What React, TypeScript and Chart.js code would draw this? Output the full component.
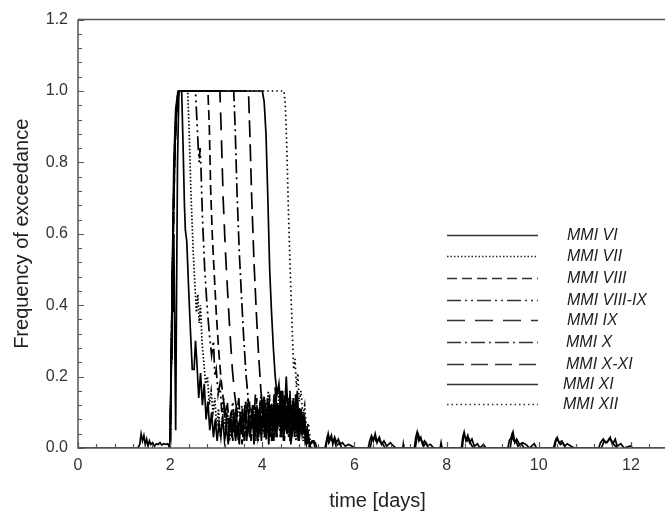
import React, { useEffect, useRef } from "react";
import { Chart, registerables } from "chart.js";

Chart.register(...registerables);

// ---------- data (time in days, frequency of exceedance) ----------
const seriesLabels = ["MMI VI", "MMI VII", "MMI VIII", "MMI VIII-IX", "MMI IX", "MMI X", "MMI X-XI", "MMI XI", "MMI XII"];

const xTicks = [0, 2, 4, 6, 8, 10, 12];
const yTicks = [0, 0.2, 0.4, 0.6, 0.8, 1.0, 1.2];

const quietBefore: [number, number][] = [
  [0, 0], [1.3, 0], [1.34, 0.01], [1.37, 0.04], [1.4, 0.02], [1.43, 0.035], [1.46, 0.01], [1.49, 0.025], [1.52, 0.005],
  [1.55, 0.02], [1.58, 0.01], [1.62, 0.015], [1.66, 0.005], [1.7, 0.012], [1.74, 0.01], [1.78, 0.015], [1.82, 0.008],
  [1.86, 0.012], [1.9, 0.01], [1.95, 0.012], [1.99, 0],
];

const quietAfter: [number, number][] = [
  [5.38, 0], [5.4, 0.02], [5.43, 0.04], [5.46, 0.02], [5.5, 0.035], [5.53, 0.01], [5.57, 0.03], [5.61, 0.015], [5.65, 0.025],
  [5.69, 0.01], [5.74, 0.015], [5.8, 0.005], [5.87, 0.01], [5.95, 0.005], [6.0, 0], [6.3, 0], [6.33, 0.02], [6.37, 0.035],
  [6.41, 0.02], [6.45, 0.04], [6.49, 0.015], [6.54, 0.03], [6.59, 0.01], [6.64, 0.02], [6.7, 0.005], [6.78, 0.015], [6.85, 0.005],
  [6.9, 0], [7.05, 0], [7.06, 0.01], [7.07, 0], [7.3, 0], [7.33, 0.03], [7.36, 0.045], [7.4, 0.02], [7.44, 0.03], [7.48, 0.01],
  [7.52, 0.02], [7.58, 0.008], [7.65, 0.01], [7.72, 0], [7.86, 0], [7.88, 0.015], [7.9, 0], [8.32, 0], [8.35, 0.03], [8.38, 0.045],
  [8.42, 0.02], [8.46, 0.035], [8.5, 0.015], [8.55, 0.025], [8.6, 0.005], [8.67, 0.012], [8.72, 0], [8.8, 0.01], [8.85, 0],
  [9.33, 0], [9.36, 0.02], [9.4, 0.03], [9.44, 0.045], [9.48, 0.015], [9.52, 0.025], [9.58, 0.01], [9.65, 0.015], [9.72, 0.01],
  [9.8, 0], [9.9, 0.012], [9.95, 0], [10.32, 0], [10.36, 0.02], [10.4, 0.03], [10.44, 0.015], [10.5, 0.02], [10.56, 0.005],
  [10.62, 0.012], [10.7, 0.005], [10.78, 0], [11.3, 0], [11.34, 0.015], [11.4, 0.025], [11.45, 0.015], [11.5, 0.02], [11.55, 0.03],
  [11.6, 0.01], [11.66, 0.025], [11.7, 0.005], [11.78, 0.012], [11.85, 0], [12.0, 0.006], [12.03, 0], [13, 0],
];

const quietAfterB: [number, number][] = [
  [5.36, 0], [5.41, 0.03], [5.44, 0.015], [5.48, 0.03], [5.52, 0.02], [5.56, 0.025], [5.6, 0.005], [5.68, 0.015], [5.72, 0],
  [6.34, 0], [6.38, 0.025], [6.43, 0.03], [6.47, 0.02], [6.52, 0.025], [6.57, 0.015], [6.62, 0.01], [6.66, 0],
  [7.32, 0], [7.35, 0.025], [7.38, 0.04], [7.42, 0.025], [7.46, 0.02], [7.5, 0.005], [7.55, 0.015], [7.6, 0],
  [8.34, 0], [8.37, 0.035], [8.41, 0.03], [8.45, 0.02], [8.49, 0.025], [8.53, 0.01], [8.58, 0],
  [9.38, 0], [9.42, 0.035], [9.46, 0.02], [9.5, 0.02], [9.55, 0.005], [9.62, 0.012], [9.68, 0],
  [10.34, 0], [10.38, 0.025], [10.42, 0.02], [10.47, 0.01], [10.52, 0.015], [10.58, 0],
  [11.36, 0], [11.42, 0.02], [11.48, 0.015], [11.53, 0.025], [11.58, 0.02], [11.63, 0.01], [11.7, 0],
];

const mmiVI: [number, number][] = [
  [2.0, 0], [2.02, 0.25], [2.04, 0.5], [2.06, 0.38], [2.08, 0.6], [2.1, 0.3], [2.12, 0.05], [2.14, 0.45], [2.16, 0.8],
  [2.19, 1.0], [2.25, 1.0], [2.28, 0.85], [2.31, 0.68], [2.33, 0.61], [2.36, 0.58], [2.4, 0.45], [2.44, 0.33], [2.48, 0.22],
  [2.52, 0.22], [2.55, 0.3], [2.58, 0.24], [2.62, 0.14], [2.66, 0.21], [2.7, 0.12], [2.74, 0.18], [2.78, 0.08], [2.82, 0.13],
  [2.86, 0.05], [2.9, 0.1], [2.94, 0.03], [2.98, 0.08], [3.02, 0.02], [3.06, 0.07], [3.1, 0.03], [3.14, 0.09], [3.18, 0.02],
  [3.22, 0.06], [3.26, 0.01], [3.3, 0.08], [3.34, 0.03], [3.38, 0.1], [3.42, 0.02], [3.46, 0.07], [3.5, 0.01], [3.54, 0.09],
  [3.58, 0.03], [3.62, 0.12], [3.66, 0.02], [3.7, 0.08], [3.74, 0.04], [3.78, 0.11], [3.82, 0.01], [3.86, 0.07], [3.9, 0.03],
  [3.94, 0.1], [3.98, 0.02], [4.02, 0.13], [4.06, 0.04], [4.1, 0.09], [4.14, 0.01], [4.18, 0.12], [4.22, 0.05], [4.26, 0.14],
  [4.3, 0.03], [4.34, 0.1], [4.38, 0.06], [4.42, 0.15], [4.46, 0.02], [4.5, 0.11], [4.54, 0.04], [4.58, 0.13], [4.62, 0.01],
  [4.66, 0.09], [4.7, 0.03], [4.74, 0.12], [4.78, 0.02], [4.82, 0.08], [4.86, 0.04], [4.9, 0.1], [4.94, 0.01], [4.98, 0.05],
  [5.02, 0.01], [5.06, 0.015], [5.15, 0.015], [5.18, 0],
];

const mmiVII: [number, number][] = [
  [2.0, 0], [2.03, 0.3], [2.06, 0.6], [2.09, 0.8], [2.12, 0.92], [2.16, 0.98], [2.2, 1.0], [2.38, 1.0], [2.41, 0.9],
  [2.45, 0.72], [2.5, 0.55], [2.54, 0.45], [2.57, 0.38], [2.6, 0.43], [2.63, 0.35], [2.66, 0.4], [2.69, 0.3], [2.73, 0.24],
  [2.77, 0.18], [2.81, 0.2], [2.85, 0.12], [2.89, 0.16], [2.93, 0.1], [2.97, 0.14], [3.01, 0.06], [3.05, 0.11], [3.09, 0.03],
  [3.13, 0.08], [3.17, 0.12], [3.21, 0.04], [3.25, 0.09], [3.29, 0.02], [3.33, 0.07], [3.37, 0.11], [3.41, 0.03], [3.45, 0.08],
  [3.49, 0.13], [3.53, 0.05], [3.57, 0.1], [3.61, 0.02], [3.65, 0.09], [3.69, 0.14], [3.73, 0.04], [3.77, 0.08], [3.81, 0.12],
  [3.85, 0.03], [3.89, 0.1], [3.93, 0.06], [3.97, 0.15], [4.01, 0.04], [4.05, 0.11], [4.09, 0.07], [4.13, 0.16], [4.17, 0.05],
  [4.21, 0.12], [4.25, 0.03], [4.29, 0.14], [4.33, 0.08], [4.37, 0.17], [4.41, 0.04], [4.45, 0.12], [4.49, 0.06], [4.53, 0.15],
  [4.57, 0.03], [4.61, 0.1], [4.65, 0.05], [4.69, 0.13], [4.73, 0.02], [4.77, 0.09], [4.81, 0.04], [4.85, 0.11], [4.89, 0.02],
  [4.93, 0.06], [4.97, 0.01], [5.0, 0.02], [5.04, 0],
];

const mmiVIII: [number, number][] = [
  [2.0, 0], [2.05, 0.5], [2.1, 0.85], [2.15, 0.97], [2.2, 1.0], [2.82, 1.0], [2.85, 0.9], [2.88, 0.72], [2.92, 0.58],
  [2.96, 0.48], [3.0, 0.38], [3.05, 0.28], [3.1, 0.2], [3.15, 0.14], [3.2, 0.1], [3.24, 0.13], [3.28, 0.06], [3.32, 0.1],
  [3.36, 0.02], [3.4, 0.08], [3.44, 0.12], [3.48, 0.04], [3.52, 0.1], [3.56, 0.01], [3.6, 0.07], [3.64, 0.13], [3.68, 0.04],
  [3.72, 0.09], [3.76, 0.02], [3.8, 0.12], [3.84, 0.05], [3.88, 0.14], [3.92, 0.03], [3.96, 0.1], [4.0, 0.06], [4.04, 0.15],
  [4.08, 0.02], [4.12, 0.11], [4.16, 0.04], [4.2, 0.13], [4.24, 0.06], [4.28, 0.17], [4.32, 0.03], [4.36, 0.1], [4.4, 0.05],
  [4.44, 0.14], [4.48, 0.02], [4.52, 0.12], [4.56, 0.07], [4.6, 0.16], [4.64, 0.03], [4.68, 0.11], [4.72, 0.05], [4.76, 0.13],
  [4.8, 0.02], [4.84, 0.09], [4.88, 0.04], [4.92, 0.07], [4.96, 0.01], [5.0, 0.03], [5.04, 0],
];

const mmiVIIIIX: [number, number][] = [
  [2.0, 0], [2.04, 0.4], [2.08, 0.75], [2.12, 0.9], [2.17, 1.0], [2.55, 1.0], [2.58, 0.92], [2.61, 0.84], [2.63, 0.8],
  [2.65, 0.84], [2.67, 0.78], [2.7, 0.65], [2.75, 0.5], [2.8, 0.4], [2.85, 0.32], [2.9, 0.26], [2.94, 0.3], [2.97, 0.2],
  [3.0, 0.22], [3.04, 0.15], [3.08, 0.18], [3.12, 0.1], [3.16, 0.14], [3.2, 0.05], [3.24, 0.11], [3.28, 0.03], [3.32, 0.09],
  [3.36, 0.13], [3.4, 0.04], [3.44, 0.1], [3.48, 0.02], [3.52, 0.08], [3.56, 0.12], [3.6, 0.05], [3.64, 0.1], [3.68, 0.03],
  [3.72, 0.13], [3.76, 0.06], [3.8, 0.1], [3.84, 0.02], [3.88, 0.12], [3.92, 0.05], [3.96, 0.09], [4.0, 0.14], [4.04, 0.03],
  [4.08, 0.11], [4.12, 0.06], [4.16, 0.15], [4.2, 0.02], [4.24, 0.1], [4.28, 0.05], [4.32, 0.13], [4.36, 0.07], [4.4, 0.16],
  [4.44, 0.03], [4.48, 0.11], [4.52, 0.05], [4.56, 0.14], [4.6, 0.02], [4.64, 0.12], [4.68, 0.06], [4.72, 0.15], [4.76, 0.03],
  [4.8, 0.1], [4.84, 0.05], [4.88, 0.08], [4.92, 0.02], [4.96, 0.04], [5.0, 0.01], [5.03, 0],
];

const mmiIX: [number, number][] = [
  [2.0, 0], [2.04, 0.35], [2.08, 0.7], [2.13, 0.93], [2.18, 1.0], [3.08, 1.0], [3.11, 0.88], [3.15, 0.7], [3.2, 0.55],
  [3.25, 0.43], [3.3, 0.32], [3.35, 0.22], [3.4, 0.15], [3.45, 0.1], [3.49, 0.14], [3.53, 0.05], [3.57, 0.11], [3.61, 0.02],
  [3.65, 0.09], [3.69, 0.13], [3.73, 0.03], [3.77, 0.1], [3.81, 0.06], [3.85, 0.15], [3.89, 0.02], [3.93, 0.11], [3.97, 0.05],
  [4.01, 0.13], [4.05, 0.03], [4.09, 0.09], [4.13, 0.14], [4.17, 0.04], [4.21, 0.11], [4.25, 0.02], [4.29, 0.16], [4.33, 0.06],
  [4.37, 0.12], [4.41, 0.03], [4.45, 0.1], [4.49, 0.15], [4.53, 0.04], [4.57, 0.12], [4.61, 0.02], [4.65, 0.14], [4.69, 0.05],
  [4.73, 0.1], [4.77, 0.03], [4.81, 0.12], [4.85, 0.04], [4.89, 0.08], [4.93, 0.02], [4.97, 0.05], [5.01, 0.01], [5.05, 0],
];

const mmiX: [number, number][] = [
  [2.0, 0], [2.03, 0.28], [2.07, 0.62], [2.11, 0.88], [2.16, 0.98], [2.2, 1.0], [3.38, 1.0], [3.41, 0.9], [3.45, 0.72],
  [3.5, 0.55], [3.55, 0.42], [3.6, 0.3], [3.65, 0.2], [3.7, 0.13], [3.75, 0.08], [3.79, 0.12], [3.83, 0.04], [3.87, 0.1],
  [3.91, 0.02], [3.95, 0.13], [3.99, 0.05], [4.03, 0.11], [4.07, 0.03], [4.11, 0.14], [4.15, 0.06], [4.19, 0.1], [4.23, 0.02],
  [4.27, 0.15], [4.31, 0.05], [4.35, 0.12], [4.39, 0.03], [4.43, 0.13], [4.47, 0.07], [4.51, 0.17], [4.55, 0.04], [4.59, 0.11],
  [4.63, 0.02], [4.67, 0.14], [4.71, 0.05], [4.75, 0.12], [4.79, 0.03], [4.83, 0.1], [4.87, 0.05], [4.91, 0.08], [4.95, 0.02],
  [4.99, 0.04], [5.03, 0],
];

const mmiXXI: [number, number][] = [
  [2.0, 0], [2.05, 0.45], [2.09, 0.78], [2.14, 0.95], [2.19, 1.0], [3.7, 1.0], [3.73, 0.88], [3.77, 0.7], [3.82, 0.52],
  [3.87, 0.38], [3.92, 0.26], [3.97, 0.16], [4.02, 0.1], [4.06, 0.14], [4.1, 0.05], [4.14, 0.12], [4.18, 0.03], [4.22, 0.1],
  [4.26, 0.15], [4.3, 0.04], [4.34, 0.12], [4.38, 0.06], [4.42, 0.16], [4.46, 0.03], [4.5, 0.11], [4.54, 0.05], [4.58, 0.14],
  [4.62, 0.02], [4.66, 0.12], [4.7, 0.06], [4.74, 0.15], [4.78, 0.03], [4.82, 0.1], [4.86, 0.04], [4.9, 0.09], [4.94, 0.02],
  [4.98, 0.05], [5.02, 0.01], [5.06, 0],
];

const mmiXI: [number, number][] = [
  [2.0, 0], [2.04, 0.42], [2.08, 0.8], [2.12, 0.95], [2.17, 1.0], [4.0, 1.0], [4.04, 0.97], [4.08, 0.88], [4.12, 0.7],
  [4.16, 0.5], [4.2, 0.38], [4.24, 0.28], [4.28, 0.2], [4.32, 0.15], [4.36, 0.18], [4.4, 0.1], [4.44, 0.16], [4.48, 0.08],
  [4.52, 0.2], [4.56, 0.09], [4.6, 0.15], [4.64, 0.05], [4.68, 0.13], [4.72, 0.07], [4.76, 0.16], [4.8, 0.04], [4.84, 0.11],
  [4.88, 0.05], [4.92, 0.08], [4.96, 0.02], [5.0, 0.03], [5.04, 0.01], [5.08, 0.02], [5.12, 0.02], [5.14, 0],
];

const mmiXII: [number, number][] = [
  [2.0, 0], [2.03, 0.33], [2.07, 0.66], [2.11, 0.9], [2.16, 0.99], [2.2, 1.0], [4.47, 1.0], [4.5, 0.96], [4.53, 0.85],
  [4.57, 0.65], [4.61, 0.48], [4.65, 0.33], [4.68, 0.22], [4.71, 0.25], [4.74, 0.17], [4.77, 0.21], [4.8, 0.13], [4.84, 0.16],
  [4.88, 0.09], [4.92, 0.12], [4.96, 0.05], [5.0, 0.07], [5.04, 0.02], [5.08, 0],
];

// ---------- styles ----------
const dashes: number[][] = [
  [],
  [1.5, 2],
  [10, 5],
  [14, 4, 2, 4, 2, 4],
  [18, 10],
  [14, 4, 2, 4],
  [17, 7],
  [],
  [1.5, 3],
];

const FONT = "'Liberation Sans', Arial, sans-serif";

const seriesData = [
  [...quietBefore, ...mmiVI, ...quietAfter],
  mmiVII,
  mmiVIII,
  mmiVIIIIX,
  mmiIX,
  mmiX,
  mmiXXI,
  [...mmiXI, ...quietAfterB],
  mmiXII,
];

const legendRowsY = [235, 256, 278, 300, 320, 342, 364, 384, 404];
const legendTextX = [567, 567, 567, 567, 567, 566, 566, 563, 563];

const decorPlugin = {
  id: "decor",
  afterDraw(chart: any) {
    const { ctx, chartArea } = chart;
    const { left, top, right, bottom } = chartArea;
    const xs = chart.scales.x;
    const ys = chart.scales.y;
    ctx.save();
    ctx.strokeStyle = "#555";
    ctx.lineWidth = 1.5;
    ctx.beginPath();
    ctx.moveTo(left, top);
    ctx.lineTo(right, top);
    ctx.moveTo(left, top);
    ctx.lineTo(left, bottom);
    ctx.lineTo(right, bottom);
    ctx.lineTo(right, top);
    ctx.stroke();
    ctx.lineWidth = 1.2;
    ctx.beginPath();
    for (let i = 0; i <= 30; i++) {
      const py = Math.round(ys.getPixelForValue(i * 0.04)) + 0.5;
      const len = i % 5 === 0 ? 6 : 4;
      ctx.moveTo(left, py);
      ctx.lineTo(left + len, py);
    }
    for (let i = 0; i <= 32; i++) {
      const px = Math.round(xs.getPixelForValue(i * 0.4)) + 0.5;
      const len = i % 5 === 0 ? 6 : 4;
      ctx.moveTo(px, bottom);
      ctx.lineTo(px, bottom - len);
    }
    ctx.stroke();

    // legend
    chart.data.datasets.forEach((ds: any, i: number) => {
      const y = legendRowsY[i] + 0.5;
      ctx.strokeStyle = "#333";
      ctx.lineWidth = 1.3;
      ctx.setLineDash(ds.borderDash || []);
      ctx.beginPath();
      ctx.moveTo(447, y);
      ctx.lineTo(538, y);
      ctx.stroke();
      ctx.setLineDash([]);
      ctx.fillStyle = "#222";
      ctx.font = `italic 16px ${FONT}`;
      ctx.textBaseline = "middle";
      ctx.textAlign = "left";
      ctx.fillText(ds.label, legendTextX[i], legendRowsY[i] + 1);
    });
    ctx.restore();
  },
};

export default function App() {
  const ref = useRef<HTMLCanvasElement | null>(null);
  useEffect(() => {
    if (!ref.current) return;
    const chart = new Chart(ref.current, {
      type: "line",
      data: {
        datasets: seriesData.map((arr, i) => ({
          label: seriesLabels[i],
          data: arr.map(([x, y]) => ({ x, y })),
          borderColor: "#000",
          borderWidth: 1.7,
          borderDash: dashes[i],
          pointRadius: 0,
          tension: 0,
          fill: false,
        })),
      },
      options: {
        responsive: false,
        devicePixelRatio: 1,
        animation: false,
        layout: { padding: { left: 0, top: 17, right: 13, bottom: 0 } },
        plugins: { legend: { display: false }, tooltip: { enabled: false } },
        scales: {
          x: {
            type: "linear",
            min: 0,
            max: 13,
            grid: { display: false, drawTicks: false },
            border: { display: false },
            afterBuildTicks: (s: any) => {
              s.ticks = xTicks.map((v) => ({ value: v }));
            },
            afterFit: (s: any) => {
              s.height = 69;
            },
            ticks: {
              padding: 8,
              color: "#333",
              font: { family: FONT, size: 16 },
              maxRotation: 0,
              callback: (v: any) => String(v),
            },
            title: {
              display: true,
              text: "time [days]",
              color: "#222",
              font: { family: FONT, size: 20 },
              padding: { top: 0, bottom: 4 },
            },
          },
          y: {
            min: 0,
            max: 1.2,
            grid: { display: false, drawTicks: false },
            border: { display: false },
            afterBuildTicks: (s: any) => {
              s.ticks = yTicks.map((v) => ({ value: v }));
            },
            afterFit: (s: any) => {
              s.width = 78;
            },
            ticks: {
              padding: 10,
              color: "#333",
              font: { family: FONT, size: 16 },
              callback: (v: any) => Number(v).toFixed(1),
            },
            title: {
              display: true,
              text: "Frequency of exceedance",
              color: "#222",
              font: { family: FONT, size: 20 },
              padding: { top: 10, bottom: 0 },
            },
          },
        },
      },
      plugins: [decorPlugin],
    });
    return () => chart.destroy();
  }, []);
  return (
    <div style={{ position: "fixed", left: 0, top: 0, width: 665, height: 517, overflow: "hidden", background: "#fff" }}>
      <canvas ref={ref} width={690} height={517} style={{ display: "block" }} />
    </div>
  );
}
